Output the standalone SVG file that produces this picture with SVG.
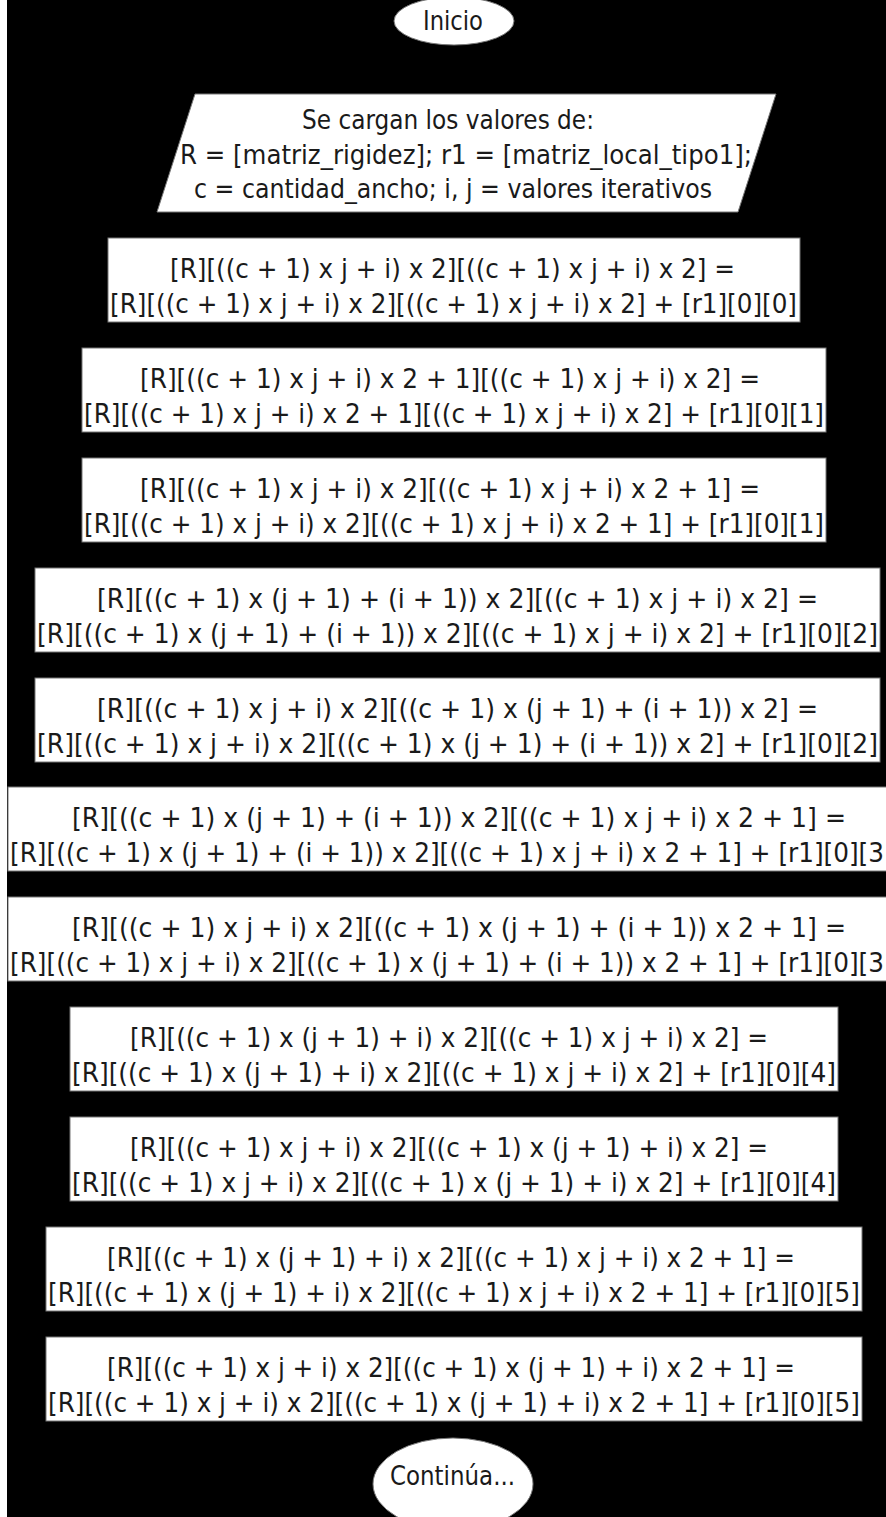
<svg xmlns="http://www.w3.org/2000/svg" width="886" height="1517" viewBox="0 0 886 1517">
<style>
.bg{fill:#000}
.shape{fill:#fff;stroke:#777;stroke-width:1}
.t{font-family:"DejaVu Sans Condensed","DejaVu Sans",sans-serif;font-size:27px;fill:#1a1a1a}
</style>
<rect x="0" y="0" width="886" height="1517" fill="#fff"/>
<rect class="bg" x="7" y="0" width="879" height="1517"/>
<g id="connectors"></g>
<g id="inicio">
<ellipse class="shape" cx="454" cy="21" rx="60" ry="24"/>
<text class="t" x="423" y="30" textLength="60" lengthAdjust="spacingAndGlyphs">Inicio</text>
</g>
<g id="entrada">
<polygon class="shape" points="195,94 776,94 738,212 157,212"/>
<text class="t" x="302" y="129" textLength="292" lengthAdjust="spacingAndGlyphs">Se cargan los valores de:</text>
<text class="t" x="180" y="164" textLength="572" lengthAdjust="spacingAndGlyphs">R = [matriz_rigidez]; r1 = [matriz_local_tipo1];</text>
<text class="t" x="194" y="198" textLength="518" lengthAdjust="spacingAndGlyphs">c = cantidad_ancho; i, j = valores iterativos</text>
</g>
<g id="p1">
<rect class="shape" x="108" y="238" width="692" height="84"/>
<text class="t" x="170" y="278" textLength="565" lengthAdjust="spacingAndGlyphs">[R][((c + 1) x j + i) x 2][((c + 1) x j + i) x 2] =</text>
<text class="t" x="110" y="313" textLength="687" lengthAdjust="spacingAndGlyphs">[R][((c + 1) x j + i) x 2][((c + 1) x j + i) x 2] + [r1][0][0]</text>
</g>
<g id="p2">
<rect class="shape" x="82" y="348" width="744" height="84"/>
<text class="t" x="140" y="388" textLength="620" lengthAdjust="spacingAndGlyphs">[R][((c + 1) x j + i) x 2 + 1][((c + 1) x j + i) x 2] =</text>
<text class="t" x="84" y="423" textLength="740" lengthAdjust="spacingAndGlyphs">[R][((c + 1) x j + i) x 2 + 1][((c + 1) x j + i) x 2] + [r1][0][1]</text>
</g>
<g id="p3">
<rect class="shape" x="82" y="458" width="744" height="84"/>
<text class="t" x="140" y="498" textLength="620" lengthAdjust="spacingAndGlyphs">[R][((c + 1) x j + i) x 2][((c + 1) x j + i) x 2 + 1] =</text>
<text class="t" x="84" y="533" textLength="740" lengthAdjust="spacingAndGlyphs">[R][((c + 1) x j + i) x 2][((c + 1) x j + i) x 2 + 1] + [r1][0][1]</text>
</g>
<g id="p4">
<rect class="shape" x="35" y="568" width="845" height="84"/>
<text class="t" x="97" y="608" textLength="721" lengthAdjust="spacingAndGlyphs">[R][((c + 1) x (j + 1) + (i + 1)) x 2][((c + 1) x j + i) x 2] =</text>
<text class="t" x="37" y="643" textLength="841" lengthAdjust="spacingAndGlyphs">[R][((c + 1) x (j + 1) + (i + 1)) x 2][((c + 1) x j + i) x 2] + [r1][0][2]</text>
</g>
<g id="p5">
<rect class="shape" x="35" y="678" width="845" height="84"/>
<text class="t" x="97" y="718" textLength="721" lengthAdjust="spacingAndGlyphs">[R][((c + 1) x j + i) x 2][((c + 1) x (j + 1) + (i + 1)) x 2] =</text>
<text class="t" x="37" y="753" textLength="841" lengthAdjust="spacingAndGlyphs">[R][((c + 1) x j + i) x 2][((c + 1) x (j + 1) + (i + 1)) x 2] + [r1][0][2]</text>
</g>
<g id="p6">
<rect class="shape" x="8" y="787" width="884" height="84"/>
<text class="t" x="72" y="827" textLength="774" lengthAdjust="spacingAndGlyphs">[R][((c + 1) x (j + 1) + (i + 1)) x 2][((c + 1) x j + i) x 2 + 1] =</text>
<text class="t" x="10" y="862" textLength="874" lengthAdjust="spacingAndGlyphs">[R][((c + 1) x (j + 1) + (i + 1)) x 2][((c + 1) x j + i) x 2 + 1] + [r1][0][3</text>
</g>
<g id="p7">
<rect class="shape" x="8" y="897" width="884" height="84"/>
<text class="t" x="72" y="937" textLength="774" lengthAdjust="spacingAndGlyphs">[R][((c + 1) x j + i) x 2][((c + 1) x (j + 1) + (i + 1)) x 2 + 1] =</text>
<text class="t" x="10" y="972" textLength="874" lengthAdjust="spacingAndGlyphs">[R][((c + 1) x j + i) x 2][((c + 1) x (j + 1) + (i + 1)) x 2 + 1] + [r1][0][3</text>
</g>
<g id="p8">
<rect class="shape" x="70" y="1007" width="768" height="84"/>
<text class="t" x="130" y="1047" textLength="638" lengthAdjust="spacingAndGlyphs">[R][((c + 1) x (j + 1) + i) x 2][((c + 1) x j + i) x 2] =</text>
<text class="t" x="72" y="1082" textLength="764" lengthAdjust="spacingAndGlyphs">[R][((c + 1) x (j + 1) + i) x 2][((c + 1) x j + i) x 2] + [r1][0][4]</text>
</g>
<g id="p9">
<rect class="shape" x="70" y="1117" width="768" height="84"/>
<text class="t" x="130" y="1157" textLength="638" lengthAdjust="spacingAndGlyphs">[R][((c + 1) x j + i) x 2][((c + 1) x (j + 1) + i) x 2] =</text>
<text class="t" x="72" y="1192" textLength="764" lengthAdjust="spacingAndGlyphs">[R][((c + 1) x j + i) x 2][((c + 1) x (j + 1) + i) x 2] + [r1][0][4]</text>
</g>
<g id="p10">
<rect class="shape" x="46" y="1227" width="816" height="84"/>
<text class="t" x="107" y="1267" textLength="688" lengthAdjust="spacingAndGlyphs">[R][((c + 1) x (j + 1) + i) x 2][((c + 1) x j + i) x 2 + 1] =</text>
<text class="t" x="48" y="1302" textLength="812" lengthAdjust="spacingAndGlyphs">[R][((c + 1) x (j + 1) + i) x 2][((c + 1) x j + i) x 2 + 1] + [r1][0][5]</text>
</g>
<g id="p11">
<rect class="shape" x="46" y="1337" width="816" height="84"/>
<text class="t" x="107" y="1377" textLength="688" lengthAdjust="spacingAndGlyphs">[R][((c + 1) x j + i) x 2][((c + 1) x (j + 1) + i) x 2 + 1] =</text>
<text class="t" x="48" y="1412" textLength="812" lengthAdjust="spacingAndGlyphs">[R][((c + 1) x j + i) x 2][((c + 1) x (j + 1) + i) x 2 + 1] + [r1][0][5]</text>
</g>
<g id="continua">
<ellipse class="shape" cx="453" cy="1484" rx="80" ry="46"/>
<text class="t" x="390" y="1485" textLength="125" lengthAdjust="spacingAndGlyphs">Continúa...</text>
</g>
</svg>
